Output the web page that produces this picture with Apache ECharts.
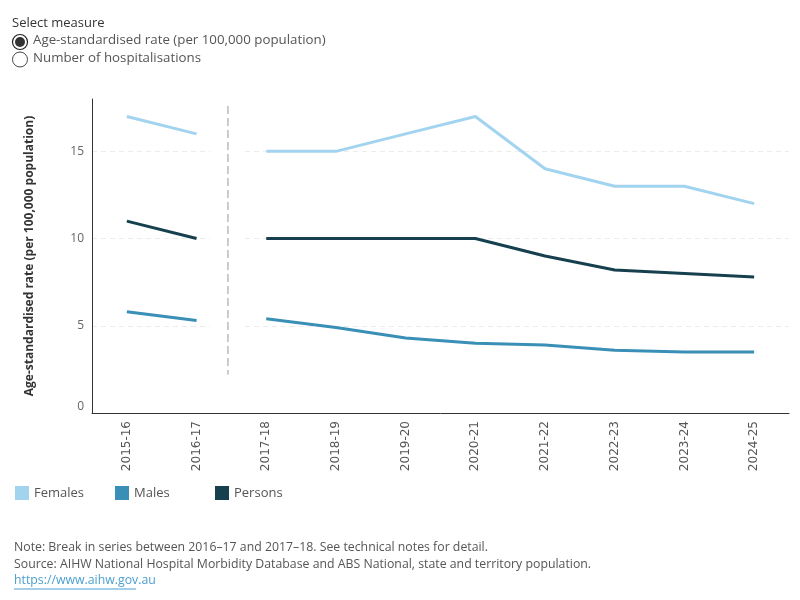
<!DOCTYPE html>
<html>
<head>
<meta charset="utf-8">
<script src="https://cdn.jsdelivr.net/npm/echarts@6/dist/echarts.min.js"></script>
<style>
  html, body { margin: 0; padding: 0; background: #fff; }
  #chart { width: 800px; height: 600px; }
</style>
</head>
<body>
<div id="chart"></div>
<script>
// data
const years = ["2015-16", "2016-17", "2017-18", "2018-19", "2019-20", "2020-21", "2021-22", "2022-23", "2023-24", "2024-25"];
const breakAfter = 2; // first point after the break in series

const females = [17, 16, 15, 15, 16, 17, 14, 13, 13, 12];
const males = [5.8, 5.3, 5.4, 4.9, 4.3, 4.0, 3.9, 3.6, 3.5, 3.5];
const persons = [11, 10, 10, 10, 10, 10, 9, 8.2, 8, 7.8];

const yTicks = [0, 5, 10, 15];
const breakLine = [[1.45, 17.6], [1.45, 2.2]];

const colors = { Females: "#a3d4ef", Males: "#3a8fb7", Persons: "#17404f" };
const font = "'Open Sans', 'Noto Sans', sans-serif";

// split each measure in two pieces so the line breaks between 2016-17 and 2017-18
function pieces(name, values) {
  const before = values.map((v, i) => (i < breakAfter ? v : null));
  const after = values.map((v, i) => (i >= breakAfter ? v : null));
  return [before, after].map(d => ({
    name: name,
    type: "line",
    data: d,
    symbol: "none",
    connectNulls: false,
    color: colors[name],
    lineStyle: { width: 3, color: colors[name] },
    z: 3
  }));
}

const myChart = echarts.init(document.getElementById("chart"));

function legendAt(name, left) {
  return {
    data: [name],
    left: left,
    top: 481,
    icon: "rect",
    itemWidth: 14,
    itemHeight: 14,
    itemGap: 4,
    selectedMode: false,
    textStyle: { color: "#555", fontSize: 13, fontFamily: font }
  };
}

const option = {
  animation: false,
  textStyle: { fontFamily: font },
  legend: [legendAt("Females", 10), legendAt("Males", 110), legendAt("Persons", 210)],
  grid: { left: 92, right: 11, top: 99, bottom: 187, containLabel: false },
  xAxis: [
    {
      type: "category",
      data: years,
      axisLine: { lineStyle: { color: "#333", width: 1 } },
      axisTick: { show: false },
      axisLabel: { rotate: 90, color: "#555", fontSize: 12, margin: 8, fontFamily: "'DejaVu Sans', sans-serif" }
    },
    {
      // hidden helper axis to place the break marker between categories
      type: "value",
      min: -0.5,
      max: 9.5,
      show: false
    }
  ],
  yAxis: {
    type: "value",
    min: 0,
    max: 18,
    interval: 5,
    name: "Age-standardised rate (per 100,000 population)",
    nameLocation: "middle",
    nameGap: 56,
    nameTextStyle: { color: "#333", fontSize: 12, fontWeight: "bold", fontFamily: font },
    axisLine: { show: true, onZero: false, lineStyle: { color: "#333", width: 1 } },
    axisTick: { show: false },
    axisLabel: {
      color: "#666",
      fontSize: 12,
      margin: 8,
      verticalAlignMinLabel: "bottom",
      formatter: v => (yTicks.indexOf(v) >= 0 ? String(v) : "")
    },
    splitLine: { show: true, showMinLine: false, showMaxLine: false, lineStyle: { color: "#ececec", type: [5, 4], width: 1 } }
  },
  series: [
    ...pieces("Females", females),
    ...pieces("Males", males),
    ...pieces("Persons", persons),
    {
      name: "break",
      type: "line",
      xAxisIndex: 1,
      data: breakLine,
      symbol: "none",
      silent: true,
      z: 5,
      lineStyle: { color: "#bbb", width: 1.5, type: [8, 4] },
      markArea: {
        silent: true,
        itemStyle: { color: "#fff" },
        data: [[{ coord: [1.2, 17.9] }, { coord: [1.66, 0.3] }]]
      }
    }
  ],
  graphic: [
    { type: "text", left: 12, top: 17, style: { text: "Select measure", fill: "#333", font: "13px " + font } },
    { type: "circle", shape: { cx: 20, cy: 42, r: 7.5 }, style: { fill: "#fff", stroke: "#222", lineWidth: 1.2 } },
    { type: "circle", shape: { cx: 20, cy: 42, r: 5 }, style: { fill: "#333" } },
    { type: "text", left: 33, top: 34, style: { text: "Age-standardised rate (per 100,000 population)", fill: "#555", font: "13.3px " + font } },
    { type: "circle", shape: { cx: 20, cy: 59.5, r: 7.5 }, style: { fill: "#fff", stroke: "#444", lineWidth: 1 } },
    { type: "text", left: 33, top: 52, style: { text: "Number of hospitalisations", fill: "#555", font: "13.3px " + font } },
    { type: "text", left: 14, top: 541, style: { text: "Note: Break in series between 2016\u201317 and 2017\u201318. See technical notes for detail.", fill: "#555", font: "12.3px " + font } },
    { type: "text", left: 14, top: 558, style: { text: "Source: AIHW National Hospital Morbidity Database and ABS National, state and territory population.", fill: "#555", font: "12.3px " + font } },
    { type: "text", left: 14, top: 574, style: { text: "https://www.aihw.gov.au", fill: "#4a9fd0", font: "12.3px " + font } },
    { type: "line", shape: { x1: 14, y1: 589, x2: 136, y2: 589 }, style: { stroke: "#4a9fd0", lineWidth: 1 } }
  ]
};

myChart.setOption(option);
</script>
</body>
</html>
